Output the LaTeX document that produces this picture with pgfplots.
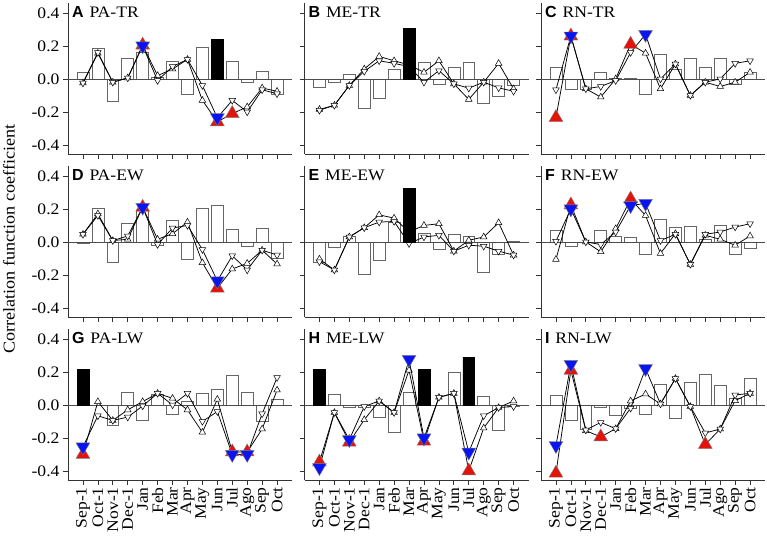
\documentclass[border=0pt]{standalone}
\usepackage{fontspec}
\setmainfont{Liberation Serif}[FakeStretch=1.1]
\newfontfamily\lettfont{Liberation Sans}
\usepackage{pgfplots}
\usepackage{pgfplotstable}
\pgfplotsset{compat=1.18}
\definecolor{sigred}{HTML}{E3120B}
\definecolor{sigblue}{HTML}{0A14F0}

% m = month index (0 = Sep-1 ... 13 = Oct), bar, up-triangle series, down-triangle series
\pgfplotstableread{
m bar up dn
0 0.040 -0.025 -0.025
1 0.186 0.155 0.160
2 -0.136 -0.020 -0.020
3 0.122 0.006 0.006
4 0.160 0.205 0.200
5 0.010 0.020 -0.010
6 0.106 0.060 0.075
7 -0.096 0.118 0.118
8 0.190 -0.130 -0.040
9 0.238 -0.260 -0.235
10 0.106 -0.210 -0.130
11 -0.020 -0.170 -0.200
12 0.046 -0.055 -0.066
13 -0.096 -0.075 -0.090
}\tabA
\pgfplotstableread{
m bar up dn
0 -0.050 -0.185 -0.190
1 -0.018 -0.160 -0.160
2 0.026 -0.040 -0.040
3 -0.180 0.060 0.046
4 -0.116 0.136 0.110
5 0.060 0.110 0.094
6 0.306 0.085 0.075
7 0.102 0.040 -0.020
8 -0.034 0.110 0.050
9 0.072 -0.030 -0.030
10 0.100 -0.124 -0.056
11 -0.150 -0.020 -0.020
12 -0.104 0.094 -0.054
13 -0.040 -0.060 -0.075
}\tabB
\pgfplotstableread{
m bar up dn
0 0.070 -0.234 -0.066
1 -0.060 0.260 0.260
2 -0.060 -0.060 -0.060
3 0.040 -0.110 -0.046
4 0.005 0.000 -0.010
5 0.006 0.210 0.160
6 -0.096 0.156 0.270
7 0.150 -0.060 0.000
8 0.060 0.090 0.090
9 0.126 -0.100 -0.100
10 0.070 -0.020 -0.020
11 0.126 -0.046 0.000
12 -0.030 -0.020 0.094
13 0.040 0.040 0.110
}\tabC
\pgfplotstableread{
m bar up dn
0 -0.010 0.046 0.046
1 0.204 0.170 0.160
2 -0.126 0.008 0.008
3 0.110 0.016 0.036
4 0.190 0.210 0.210
5 -0.020 0.016 -0.016
6 0.130 0.050 0.084
7 -0.106 0.120 0.100
8 0.204 -0.126 -0.046
9 0.220 -0.280 -0.236
10 0.074 -0.164 -0.084
11 -0.026 -0.130 -0.170
12 0.082 -0.050 -0.050
13 -0.100 -0.134 -0.080
}\tabD
\pgfplotstableread{
m bar up dn
0 -0.124 -0.104 -0.120
1 -0.032 -0.170 -0.170
2 0.034 0.030 0.030
3 -0.196 0.086 0.086
4 -0.110 0.164 0.120
5 0.116 0.144 0.124
6 0.326 0.060 -0.010
7 0.050 0.100 0.030
8 -0.046 0.110 0.040
9 0.044 -0.056 -0.056
10 0.034 0.010 -0.020
11 -0.184 0.030 -0.026
12 -0.074 0.116 -0.056
13 0.003 -0.080 -0.080
}\tabE
\pgfplotstableread{
m bar up dn
0 0.070 -0.106 0.004
1 -0.024 0.224 0.200
2 -0.005 0.000 0.000
3 0.068 -0.060 -0.016
4 0.036 0.080 0.060
5 0.028 0.260 0.220
6 -0.076 0.160 0.234
7 0.136 -0.070 0.008
8 0.090 0.050 0.046
9 0.096 -0.136 -0.136
10 0.016 0.040 0.046
11 0.100 0.016 0.060
12 -0.076 -0.020 0.090
13 -0.040 0.036 0.110
}\tabF
\pgfplotstableread{
m bar up dn
0 0.216 -0.300 -0.254
1 0.000 0.020 -0.066
2 -0.126 -0.094 -0.094
3 0.074 -0.030 -0.074
4 -0.096 0.020 -0.006
5 0.065 0.070 0.070
6 -0.054 0.040 0.000
7 0.020 -0.030 0.070
8 0.070 -0.166 -0.100
9 0.094 0.034 -0.040
10 0.180 -0.285 -0.300
11 0.076 -0.285 -0.300
12 -0.100 -0.146 -0.054
13 0.034 0.090 0.166
}\tabG
\pgfplotstableread{
m bar up dn
0 0.216 -0.346 -0.380
1 0.066 -0.046 -0.046
2 -0.014 -0.226 -0.210
3 -0.016 -0.090 -0.010
4 -0.076 0.024 0.024
5 -0.164 -0.046 -0.046
6 0.074 0.210 0.276
7 0.216 -0.220 -0.200
8 0.000 0.046 0.046
9 0.196 0.070 0.070
10 0.290 -0.400 -0.286
11 0.054 -0.140 -0.066
12 -0.156 -0.016 -0.016
13 -0.010 0.024 -0.010
}\tabH
\pgfplotstableread{
m bar up dn
0 0.056 -0.414 -0.246
1 -0.096 0.210 0.246
2 -0.146 -0.156 -0.152
3 -0.016 -0.194 -0.106
4 -0.062 -0.144 -0.144
5 -0.020 0.024 -0.020
6 -0.056 0.066 0.220
7 0.124 0.006 0.006
8 -0.082 0.160 0.160
9 0.140 -0.010 -0.010
10 0.184 -0.240 -0.170
11 0.120 -0.146 -0.146
12 0.040 0.026 0.060
13 0.160 0.070 0.070
}\tabI

\pgfplotsset{
  panel/.style={
    width=224pt, height=151pt, scale only axis,
    xmin=-1, xmax=14, ymin=-0.455, ymax=0.46,
    axis x line*=bottom, axis y line*=left,
    axis line style={black!80, line width=0.7pt},
    tick align=outside, major tick length=5pt,
    tick style={black!80, line width=0.7pt},
    xtick={0,...,13}, ytick={-0.4,-0.2,0,0.2,0.4},
    xticklabels={}, yticklabels={},
    tick label style={font=\fontsize{16}{16}\selectfont},
    clip=false, clip marker paths=true,
  },
  leftcol/.style={yticklabels={-0.4,-0.2,0.0,0.2,0.4}},
  bottomrow/.style={
    xticklabels={Sep-1,Oct-1,Nov-1,Dec-1,Jan,Feb,Mar,Apr,May,Jun,Jul,Ago,Sep,Oct},
    xticklabel style={rotate=90, anchor=east, inner sep=2pt},
  },
  barw/.style={ybar, bar shift=0pt, bar width=0.8, draw=black!60, line width=0.6pt},
  upl/.style={black, line width=0.75pt, mark=triangle*, mark size=3.8pt,
    mark options={fill=white, draw=black, line width=0.5pt}},
  dnl/.style={black, line width=0.75pt, mark=triangle*, mark size=3.8pt,
    mark options={fill=white, draw=black, line width=0.5pt, rotate=180}},
  redm/.style={only marks, mark=triangle*, mark size=8pt,
    mark options={fill=sigred, draw=black!50, line width=0.4pt}},
  bluem/.style={only marks, mark=triangle*, mark size=8pt,
    mark options={fill=sigblue, draw=black!50, line width=0.4pt, rotate=180}},
}

% #1 position, #2 extra options, #3 table, #4 black bars, #5 red marks, #6 blue marks, #7 letter, #8 name
\newcommand{\panel}[8]{%
\begin{axis}[panel, at={(#1)}, anchor=south west, #2]
\addplot[barw, fill=white] table[x=m, y=bar] {#3};
\addplot[black!70, line width=0.7pt] coordinates {(-1,0) (14,0)};
\addplot[upl] table[x=m, y=up] {#3};
\addplot[dnl] table[x=m, y=dn] {#3};
\addplot[barw, fill=black, draw=black] coordinates {#4};
\addplot[redm] coordinates {#5};
\addplot[bluem] coordinates {#6};
\node[anchor=west, inner sep=0pt, font=\fontsize{16}{16}\selectfont]
  at (rel axis cs:0.017,0.94) {{\lettfont\bfseries #7}\hspace{6pt}#8};
\end{axis}}

\begin{document}
\begin{tikzpicture}
\useasboundingbox (0,0) rectangle (767pt,546pt);
\panel{68pt,392pt}{leftcol}{\tabA}{(9,0.238)}{(4,0.205) (9,-0.26) (10,-0.21)}{(4,0.20) (9,-0.235)}{A}{PA-TR}
\panel{304.5pt,392pt}{}{\tabB}{(6,0.306)}{}{}{B}{ME-TR}
\panel{541pt,392pt}{}{\tabC}{}{(0,-0.234) (1,0.26) (5,0.21)}{(1,0.26) (6,0.27)}{C}{RN-TR}
\panel{68pt,229pt}{leftcol}{\tabD}{}{(4,0.21) (9,-0.28)}{(4,0.21) (9,-0.236)}{D}{PA-EW}
\panel{304.5pt,229pt}{}{\tabE}{(6,0.326)}{}{}{E}{ME-EW}
\panel{541pt,229pt}{}{\tabF}{}{(1,0.224) (5,0.26)}{(1,0.2) (5,0.22) (6,0.234)}{F}{RN-EW}
\panel{68pt,66pt}{leftcol,bottomrow}{\tabG}{(0,0.216)}{(0,-0.3) (10,-0.285) (11,-0.285)}{(0,-0.254) (10,-0.3) (11,-0.3)}{G}{PA-LW}
\panel{304.5pt,66pt}{bottomrow}{\tabH}{(0,0.216) (7,0.216) (10,0.29)}{(0,-0.346) (2,-0.226) (7,-0.22) (10,-0.4)}{(0,-0.38) (2,-0.21) (6,0.276) (7,-0.2) (10,-0.286)}{H}{ME-LW}
\panel{541pt,66pt}{bottomrow}{\tabI}{}{(0,-0.414) (1,0.21) (3,-0.194) (10,-0.24)}{(0,-0.246) (1,0.246) (6,0.22)}{I}{RN-LW}
\node[rotate=90, font=\fontsize{16.5}{16.5}\selectfont] at (9pt,307pt) {Correlation function coefficient};
\end{tikzpicture}
\end{document}
